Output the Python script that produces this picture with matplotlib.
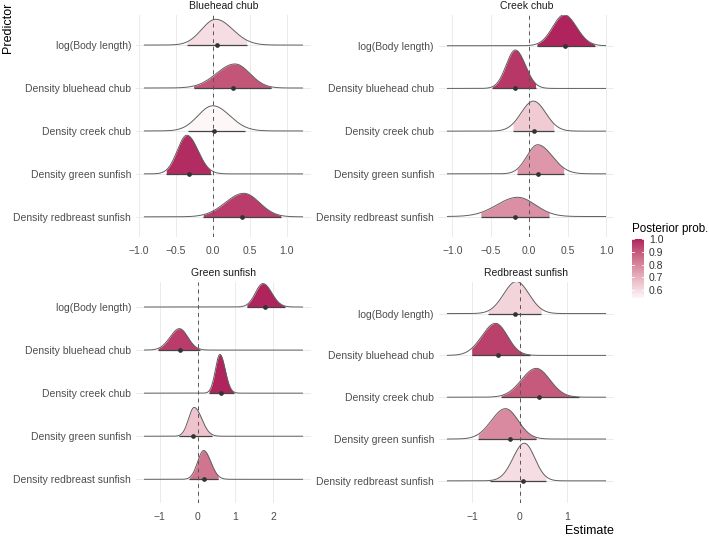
import numpy as np
import matplotlib
matplotlib.use("Agg")
import matplotlib.pyplot as plt
from matplotlib.colors import ListedColormap, Normalize, to_rgb

plt.rcParams['font.family'] = ['Liberation Sans', 'DejaVu Sans']

# ---------------- data ----------------
species = ["Bluehead chub", "Creek chub", "Green sunfish", "Redbreast sunfish"]
predictors = ["log(Body length)", "Density bluehead chub", "Density creek chub",
              "Density green sunfish", "Density redbreast sunfish"]

post_mode = [
    [0.04, 0.30, 0.00, -0.35, 0.42],
    [0.455, -0.18, 0.055, 0.11, -0.15],
    [1.73, -0.48, 0.59, -0.09, 0.16],
    [-0.07, -0.51, 0.35, -0.30, 0.10],
]
post_sd_left = [
    [0.19, 0.25, 0.20, 0.13, 0.25],
    [0.15, 0.12, 0.16, 0.14, 0.27],
    [0.20, 0.25, 0.12, 0.15, 0.16],
    [0.27, 0.29, 0.31, 0.30, 0.24],
]
post_sd_right = [
    [0.23, 0.20, 0.23, 0.15, 0.21],
    [0.16, 0.13, 0.16, 0.19, 0.23],
    [0.23, 0.22, 0.14, 0.20, 0.19],
    [0.27, 0.25, 0.29, 0.27, 0.22],
]
post_median = [
    [0.06, 0.27, 0.01, -0.32, 0.40],
    [0.46, -0.18, 0.06, 0.12, -0.18],
    [1.78, -0.46, 0.61, -0.12, 0.17],
    [-0.105, -0.46, 0.40, -0.21, 0.08],
]
ci_low = [
    [-0.35, -0.26, -0.34, -0.63, -0.13],
    [0.10, -0.48, -0.21, -0.16, -0.63],
    [1.30, -1.05, 0.30, -0.50, -0.22],
    [-0.67, -1.02, -0.39, -0.88, -0.63],
]
ci_high = [
    [0.46, 0.79, 0.43, -0.03, 0.92],
    [0.85, 0.085, 0.32, 0.45, 0.26],
    [2.30, 0.05, 0.95, 0.38, 0.55],
    [0.46, 0.21, 1.25, 0.35, 0.56],
]
post_prob = [
    [0.60, 0.91, 0.54, 0.99, 0.96],
    [1.00, 0.97, 0.64, 0.76, 0.78],
    [1.00, 0.96, 1.00, 0.66, 0.84],
    [0.62, 0.95, 0.90, 0.79, 0.60],
]
range_low = [-0.93, -1.07, -1.42, -1.54]
range_high = [1.22, 1.00, 2.79, 1.83]

x_ticks = [[-1, -0.5, 0, 0.5, 1], [-1, -0.5, 0, 0.5, 1], [-1, 0, 1, 2], [-1, 0, 1]]
x_tick_labels = [["\u22121.0", "\u22120.5", "0.0", "0.5", "1.0"],
                 ["\u22121.0", "\u22120.5", "0.0", "0.5", "1.0"],
                 ["\u22121", "0", "1", "2"],
                 ["\u22121", "0", "1"]]
legend_ticks = [0.6, 0.7, 0.8, 0.9, 1.0]
legend_labels = ["0.6", "0.7", "0.8", "0.9", "1.0"]

# ---------------- colour scale (Lab interpolation, like ggplot) ----------------
def _lin(c):
    c = np.asarray(c, float)
    return np.where(c <= 0.04045, c / 12.92, ((c + 0.055) / 1.055) ** 2.4)

def _gam(c):
    c = np.clip(c, 0, 1)
    return np.where(c <= 0.0031308, 12.92 * c, 1.055 * c ** (1 / 2.4) - 0.055)

_M = np.array([[0.4124, 0.3576, 0.1805], [0.2126, 0.7152, 0.0722], [0.0193, 0.1192, 0.9505]])
_WP = np.array([0.95047, 1.0, 1.08883])

def rgb2lab(rgb):
    xyz = _M @ _lin(rgb) / _WP
    d = 6 / 29
    f = np.where(xyz > d ** 3, np.cbrt(xyz), xyz / (3 * d * d) + 4 / 29)
    return np.array([116 * f[1] - 16, 500 * (f[0] - f[1]), 200 * (f[1] - f[2])])

def lab2rgb(lab):
    L, a, b = lab
    fy = (L + 16) / 116
    fx = fy + a / 500
    fz = fy - b / 200
    d = 6 / 29
    f = np.array([fx, fy, fz])
    xyz = np.where(f > d, f ** 3, 3 * d * d * (f - 4 / 29)) * _WP
    return _gam(np.linalg.solve(_M, xyz))

low_lab = rgb2lab(to_rgb("#FFFFFF"))
high_lab = rgb2lab(to_rgb("#B0245E"))
cmap = ListedColormap([lab2rgb(low_lab + t * (high_lab - low_lab)) for t in np.linspace(0, 1, 256)])
norm = Normalize(0.52, 1.0)

# ---------------- figure ----------------
W, H = 709, 537
fig = plt.figure(figsize=(W / 100, H / 100), dpi=100)

def add_ax(l, t, r, b):
    return fig.add_axes([l / W, 1 - b / H, (r - l) / W, (b - t) / H])

boxes = [(136, 15, 311, 237), (439, 15, 614, 237), (136, 282, 311, 503), (439, 282, 614, 503)]
ylims = [(-0.47, 4.70), (-0.48, 4.72), (-0.55, 4.58), (-0.53, 4.755)]

LINE = "#5f5f5f"
GRID = "#ebebeb"
TXT = "#4d4d4d"
FS = 7.5

def split_normal(x, m, sl, sr):
    s = np.where(x < m, sl, sr)
    return 2 / (np.sqrt(2 * np.pi) * (sl + sr)) * np.exp(-0.5 * ((x - m) / s) ** 2)

for p in range(4):
    ax = add_ax(*boxes[p])
    lo_r, hi_r = range_low[p], range_high[p]
    span = hi_r - lo_r
    ax.set_xlim(lo_r - 0.05 * span, hi_r + 0.05 * span)
    ax.set_ylim(*ylims[p])
    xs = np.linspace(lo_r, hi_r, 800)
    peaks = [2 / (np.sqrt(2 * np.pi) * (post_sd_left[p][i] + post_sd_right[p][i])) for i in range(5)]
    pmax = max(peaks)
    base = [4 - i for i in range(5)]
    for i in range(5):
        y0 = base[i]
        h = split_normal(xs, post_mode[p][i], post_sd_left[p][i], post_sd_right[p][i]) / pmax * 0.9
        z = 2 + i * 0.1
        mask = (xs >= ci_low[p][i]) & (xs <= ci_high[p][i])
        ax.fill_between(xs[mask], y0, y0 + h[mask], color=cmap(norm(post_prob[p][i])),
                        lw=0, zorder=z)
        ax.plot(xs, y0 + h, color=LINE, lw=0.7, zorder=z + 0.01, solid_capstyle='butt')
        ax.plot([ci_low[p][i], ci_high[p][i]], [y0, y0], color="#444444", lw=0.9,
                zorder=z + 0.02, solid_capstyle='butt')
        ax.plot([post_median[p][i]], [y0], 'o', color="#333333", ms=3.4, mec='none',
                zorder=z + 0.03)
    ax.axvline(0, color="#555555", lw=0.7, ls=(0, (4, 4)), zorder=5)
    ax.set_xticks(x_ticks[p])
    ax.set_xticklabels(x_tick_labels[p])
    ax.set_yticks(base)
    ax.set_yticklabels(predictors)
    ax.grid(True, color=GRID, lw=0.7)
    ax.set_axisbelow(True)
    for s in ax.spines.values():
        s.set_visible(False)
    ax.tick_params(length=0, labelsize=FS, labelcolor=TXT)
    ax.tick_params(axis='x', pad=6.5)
    ax.tick_params(axis='y', pad=3.6)
    l, t, r, b = boxes[p]
    fig.text((l + r) / 2 / W, 1 - (t - 9) / H, species[p], ha='center', va='center',
             fontsize=FS, color="#1a1a1a")

fig.text(614 / W, 1 - 531 / H, "Estimate", ha='right', va='center', fontsize=9, color="black")
fig.text(8 / W, 1 - 3 / H, "Predictor", ha='center', va='top', rotation=90, fontsize=9,
         color="black")

# legend colourbar
lo_leg = min(min(r) for r in post_prob)
hi_leg = max(max(r) for r in post_prob)
cax = add_ax(632, 239, 644, 298)
grad = np.linspace(hi_leg, lo_leg, 300)[:, None]
cax.imshow(grad, aspect='auto', cmap=cmap, norm=norm, extent=[0, 1, lo_leg, hi_leg])
cax.set_xlim(0, 1)
cax.set_ylim(lo_leg, hi_leg)
for tv in legend_ticks:
    cax.plot([0, 0.2], [tv, tv], color='white', lw=0.6)
    cax.plot([0.8, 1], [tv, tv], color='white', lw=0.6)
cax.set_xticks([])
cax.yaxis.tick_right()
cax.set_yticks(legend_ticks)
cax.set_yticklabels(legend_labels)
cax.tick_params(length=0, labelsize=FS, labelcolor="#333333", pad=3.5)
for s in cax.spines.values():
    s.set_visible(False)
fig.text(632 / W, 1 - 229 / H, "Posterior prob.", ha='left', va='center', fontsize=8.4,
         color="black")

fig.savefig("out.png", dpi=100)
